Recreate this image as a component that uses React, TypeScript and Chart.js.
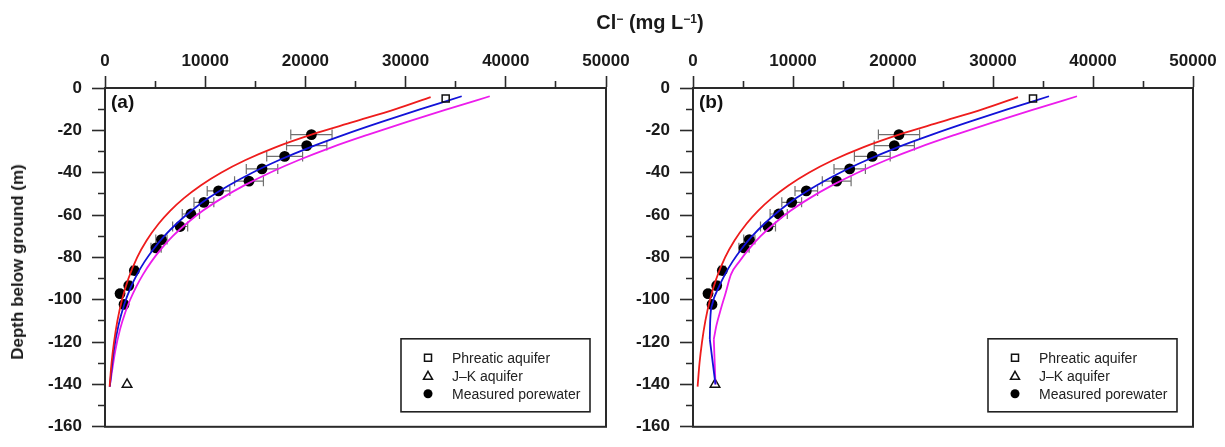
import React, { useEffect, useRef } from 'react';
import { Chart, registerables } from 'chart.js';

Chart.register(...registerables);

// ---- Data (Cl- in mg/L, depth in m) ----
const porewaterCl = [20600, 20130, 17930, 15670, 14370, 11330, 9870, 8570, 7500, 5630, 5100, 2930, 2370, 1500, 1900];
const porewaterDepth = [-22, -27.2, -32.3, -38.2, -44, -48.6, -54, -59.5, -65.4, -71.6, -75.5, -86.2, -93.3, -97.1, -102.2];
const porewaterErr = [2060, 2010, 1790, 1570, 1440, 1130, 990, 860, 750, 560, 510, 290, 240, 150, 190];

const phreaticCl = [34000];
const phreaticDepth = [-5];
const jkCl = [2200];
const jkDepth = [-140];

const redCl = [32500, 29000, 24800, 20600, 17000, 14030, 11580, 9550, 7880, 6500, 5370, 4150, 3210, 2340, 1700, 1235, 900, 650, 460];
const redDepth = [-4.3, -10, -16, -22, -28, -34, -40, -46, -52, -58, -64, -72, -80, -90, -100, -110, -120, -130, -141];

const blueCl = [35600, 31500, 27600, 23900, 20450, 17400, 14700, 12350, 10320, 8620, 7160, 5910, 4850, 3950, 3200, 2580, 1935, 1350, 876, 475];
const blueDepth = [-3.9, -10, -16, -22, -28, -34, -40, -46, -52, -58, -64, -70, -76, -82, -88, -94, -102, -112, -124, -141];

const magentaCl = [38400, 34200, 30150, 26270, 22610, 19350, 16450, 13900, 11680, 9750, 8150, 6760, 5610, 4630, 3800, 3100, 2510, 2020, 1500, 1030, 470];
const magentaDepth = [-3.9, -10, -16, -22, -28, -34, -40, -46, -52, -58, -64, -70, -76, -82, -88, -94, -100, -106, -114, -124, -141];

// panel (b): lower parts of blue and magenta head to the J-K aquifer
const blueBCl = [35600, 31500, 27600, 23900, 20450, 17400, 14700, 12350, 10320, 8620, 7160, 5910, 4850, 3950, 3200, 2580, 1935, 1720, 1680];
const blueBDepth = [-3.9, -10, -16, -22, -28, -34, -40, -46, -52, -58, -64, -70, -76, -82, -88, -94, -102, -110, -118.6];
const blueBTailCl = [1680, 2250];
const blueBTailDepth = [-118.6, -140];

const magentaBCl = [38400, 34200, 30150, 26270, 22610, 19350, 16450, 13900, 11680, 9750, 8150, 6760, 5610, 4630, 3800, 3250, 2750, 2350, 2080];
const magentaBDepth = [-3.9, -10, -16, -22, -28, -34, -40, -46, -52, -58, -64, -70, -76, -82, -88, -97, -105, -112, -118.6];
const magentaBTailCl = [2080, 2250];
const magentaBTailDepth = [-118.6, -140];

const legendLabels = ['Phreatic aquifer', 'J\u2013K aquifer', 'Measured porewater'];

const FONT = "'Liberation Sans', Arial, Helvetica, sans-serif";
const RED = '#ee1c1c';
const BLUE = '#1212d8';
const MAGENTA = '#ec1cec';
const AXIS = '#2a2a2a';

const pts = (xs: number[], ys: number[]) => xs.map((x, i) => ({ x, y: ys[i] }));

const lineDs = (xs: number[], ys: number[], color: string, smooth = true) => ({
  type: 'line' as const,
  data: pts(xs, ys),
  xAxisID: 'x',
  yAxisID: 'y',
  borderColor: color,
  backgroundColor: color,
  borderWidth: 1.8,
  pointRadius: 0,
  pointHoverRadius: 0,
  fill: false,
  cubicInterpolationMode: smooth ? ('monotone' as const) : ('default' as const),
  tension: 0,
});

const errorBarPlugin = {
  id: 'errorBars',
  beforeDatasetsDraw(chart: any) {
    const { ctx, scales } = chart;
    const xs = scales.x, ys = scales.y;
    ctx.save();
    ctx.strokeStyle = '#707070';
    ctx.lineWidth = 1.2;
    porewaterCl.forEach((c, i) => {
      const e = porewaterErr[i];
      const y = ys.getPixelForValue(porewaterDepth[i]);
      const x1 = xs.getPixelForValue(c - e);
      const x2 = xs.getPixelForValue(c + e);
      ctx.beginPath();
      ctx.moveTo(x1, y); ctx.lineTo(x2, y);
      ctx.moveTo(x1, y - 5); ctx.lineTo(x1, y + 5);
      ctx.moveTo(x2, y - 5); ctx.lineTo(x2, y + 5);
      ctx.stroke();
    });
    ctx.restore();
  },
};

const framePlugin = {
  id: 'frameLegend',
  afterDraw(chart: any) {
    const { ctx, chartArea: ca } = chart;
    const label = chart.options.plugins.frameLegend.label;
    ctx.save();
    ctx.strokeStyle = AXIS;
    ctx.lineWidth = 2;
    ctx.strokeRect(ca.left, ca.top, ca.right - ca.left, ca.bottom - ca.top);
    ctx.fillStyle = '#111';
    ctx.font = `bold 19px ${FONT}`;
    ctx.textBaseline = 'middle';
    ctx.textAlign = 'left';
    ctx.fillText(label, ca.left + 6, ca.top + 15);
    const bw = 189, bh = 73;
    const bx = ca.right - 16 - bw;
    const by = ca.bottom - 15 - bh;
    ctx.fillStyle = '#fff';
    ctx.fillRect(bx, by, bw, bh);
    ctx.lineWidth = 1.6;
    ctx.strokeStyle = '#222';
    ctx.strokeRect(bx, by, bw, bh);
    const mx = bx + 27;
    const tx = bx + 51;
    const rows = [by + 19, by + 37, by + 55];
    ctx.lineWidth = 1.5;
    ctx.strokeStyle = '#111';
    ctx.fillStyle = '#fff';
    ctx.beginPath();
    ctx.rect(mx - 3.5, rows[0] - 3.5, 7, 7);
    ctx.fill(); ctx.stroke();
    ctx.beginPath();
    ctx.moveTo(mx, rows[1] - 4.5);
    ctx.lineTo(mx + 4.5, rows[1] + 3.5);
    ctx.lineTo(mx - 4.5, rows[1] + 3.5);
    ctx.closePath();
    ctx.fill(); ctx.stroke();
    ctx.fillStyle = '#000';
    ctx.beginPath();
    ctx.arc(mx, rows[2], 4.5, 0, Math.PI * 2);
    ctx.fill();
    ctx.fillStyle = '#222';
    ctx.font = `14px ${FONT}`;
    legendLabels.forEach((t, i) => ctx.fillText(t, tx, rows[i] + 1));
    ctx.restore();
  },
};

function makeConfig(panel: 'a' | 'b', yAxisWidth: number, padRight: number) {
  const tickFont = { family: FONT, size: 17, weight: 'bold' as const };
  const lines =
    panel === 'a'
      ? [
          lineDs(redCl, redDepth, RED),
          lineDs(blueCl, blueDepth, BLUE),
          lineDs(magentaCl, magentaDepth, MAGENTA),
        ]
      : [
          lineDs(redCl, redDepth, RED),
          lineDs(blueBCl, blueBDepth, BLUE),
          lineDs(blueBTailCl, blueBTailDepth, BLUE, false),
          lineDs(magentaBCl, magentaBDepth, MAGENTA),
          lineDs(magentaBTailCl, magentaBTailDepth, MAGENTA, false),
        ];
  return {
    type: 'scatter' as const,
    data: {
      datasets: [
        {
          type: 'scatter' as const,
          data: pts(phreaticCl, phreaticDepth),
          pointStyle: 'rect',
          pointRadius: 5,
          borderColor: '#111',
          backgroundColor: 'rgba(255,255,255,0)',
          borderWidth: 1.5,
        },
        ...lines,
        {
          type: 'scatter' as const,
          data: pts(jkCl, jkDepth),
          pointStyle: 'triangle',
          pointRadius: 5.5,
          borderColor: '#111',
          backgroundColor: '#fff',
          borderWidth: 1.5,
        },
        {
          type: 'scatter' as const,
          data: pts(porewaterCl, porewaterDepth),
          pointStyle: 'circle',
          pointRadius: 5.4,
          borderColor: '#000',
          backgroundColor: '#000',
          borderWidth: 0,
        },
      ],
    },
    options: {
      animation: false as const,
      responsive: false,
      maintainAspectRatio: false,
      events: [],
      layout: { autoPadding: false, padding: { left: 0, top: 0, right: padRight, bottom: 10 } },
      plugins: {
        legend: { display: false },
        tooltip: { enabled: false },
        frameLegend: { label: panel === 'a' ? '(a)' : '(b)' },
      },
      scales: {
        x: {
          type: 'linear' as const,
          position: 'top' as const,
          min: 0,
          max: 50000,
          ticks: {
            stepSize: 5000,
            autoSkip: false,
            maxRotation: 0,
            padding: 4,
            color: '#1a1a1a',
            font: tickFont,
            callback: (v: any) => (Number(v) % 10000 === 0 ? String(v) : ''),
          },
          grid: {
            drawOnChartArea: false,
            tickLength: 12,
            tickWidth: 1.6,
            tickColor: AXIS,
            tickBorderDash: (c: any) => (c.tick && c.tick.value % 10000 !== 0 ? [0, 5, 20] : []),
          },
          border: { display: true, color: AXIS, width: 2 },
          afterFit: (s: any) => {
            s.height = 88;
          },
        },
        y: {
          type: 'linear' as const,
          position: 'left' as const,
          min: -160,
          max: 0,
          ticks: {
            stepSize: 10,
            autoSkip: false,
            padding: 10,
            color: '#1a1a1a',
            font: tickFont,
            callback: (v: any) => (Number(v) % 20 === 0 ? String(v) : ''),
          },
          grid: {
            drawOnChartArea: false,
            tickLength: 13,
            tickWidth: 1.6,
            tickColor: AXIS,
            tickBorderDash: (c: any) => (c.tick && c.tick.value % 20 !== 0 ? [0, 6, 20] : []),
          },
          border: { display: true, color: AXIS, width: 2 },
          afterFit: (s: any) => {
            s.width = yAxisWidth;
          },
        },
      },
    },
    plugins: [errorBarPlugin, framePlugin],
  };
}

function Panel({ panel, left, width, yAxisWidth, padRight }: any) {
  const ref = useRef<HTMLCanvasElement | null>(null);
  useEffect(() => {
    if (!ref.current) return;
    const chart = new Chart(ref.current, makeConfig(panel, yAxisWidth, padRight) as any);
    return () => chart.destroy();
  }, []);
  return (
    <canvas
      ref={ref}
      width={width}
      height={447}
      style={{ position: 'absolute', left, top: 0, width, height: 447 }}
    />
  );
}

const supStyle = { fontSize: 12, verticalAlign: 'top', position: 'relative' as const, top: -3 };

export default function App() {
  return (
    <div style={{ position: 'fixed', left: 0, top: 0, width: 1225, height: 447, background: '#fff', overflow: 'hidden', fontFamily: FONT }}>
      <Panel panel="a" left={0} width={640} yAxisWidth={105} padRight={34} />
      <Panel panel="b" left={612} width={613} yAxisWidth={81} padRight={32} />
      <div
        style={{
          position: 'absolute',
          left: 550,
          top: 9,
          width: 200,
          textAlign: 'center',
          fontWeight: 'bold',
          fontSize: 20,
          color: '#1a1a1a',
          lineHeight: '26px',
        }}
      >
        Cl<sup style={supStyle}>{'\u2212'}</sup> (mg L<sup style={supStyle}>{'\u22121'}</sup>)
      </div>
      <div
        style={{
          position: 'absolute',
          left: 18,
          top: 262,
          transform: 'translate(-50%, -50%) rotate(-90deg)',
          whiteSpace: 'nowrap',
          fontWeight: 'bold',
          fontSize: 17,
          color: '#1a1a1a',
        }}
      >
        Depth below ground (m)
      </div>
    </div>
  );
}
